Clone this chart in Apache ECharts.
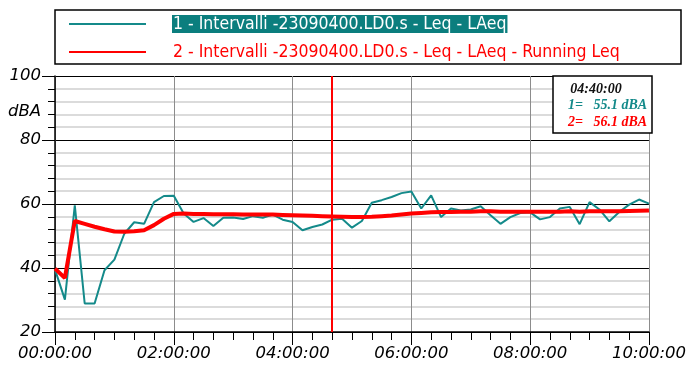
<!DOCTYPE html>
<html>
<head>
<meta charset="utf-8">
<script src="https://cdn.jsdelivr.net/npm/echarts@6/dist/echarts.min.js"></script>
<style>
html, body { margin: 0; padding: 0; background: #fff; }
#chart { width: 689px; height: 366px; }
</style>
</head>
<body>
<div id="chart"></div>
<script>
// Series names shown in the legend
const seriesNames = [
  '1 - Intervalli -23090400.LD0.s - Leq - LAeq',
  '2 - Intervalli -23090400.LD0.s - Leq - LAeq - Running Leq'
];

// 10-minute interval levels, dBA
const leq = [
  39.5, 30.1, 59.6, 28.9, 28.9, 39.3, 42.6, 50.7, 54.3, 53.8,
  60.6, 62.5, 62.6, 57.0, 54.4, 55.6, 53.1, 55.7, 55.8, 55.3,
  56.2, 55.7, 56.7, 55.1, 54.4, 51.8, 52.8, 53.6, 55.1, 55.4,
  52.6, 54.7, 60.4, 61.2, 62.2, 63.4, 63.9, 58.6, 62.7, 55.9,
  58.6, 58.0, 58.3, 59.3, 56.5, 53.8, 55.9, 57.2, 57.4, 55.2,
  55.9, 58.6, 59.1, 53.7, 60.6, 58.3, 54.6, 57.5, 59.8, 61.4,
  60.1
];

// Running Leq, dBA
const runningLeq = [
  39.8, 36.9, 54.7, 53.8, 52.9, 52.1, 51.4, 51.3, 51.5, 51.8,
  53.4, 55.4, 56.9, 57.0, 56.9, 56.9, 56.8, 56.8, 56.8, 56.7,
  56.7, 56.7, 56.7, 56.6, 56.5, 56.4, 56.3, 56.2, 56.1, 56.0,
  55.9, 55.9, 56.0, 56.2, 56.4, 56.7, 57.0, 57.2, 57.4, 57.5,
  57.5, 57.6, 57.6, 57.7, 57.7, 57.6, 57.6, 57.6, 57.6, 57.6,
  57.6, 57.6, 57.7, 57.6, 57.7, 57.7, 57.7, 57.7, 57.8, 57.9,
  58.0
];

const stepMinutes = 10;
const cursorIndex = 28;   // cursor at 04:40:00

const xTickLabels = ['00:00:00', '02:00:00', '04:00:00', '06:00:00', '08:00:00', '10:00:00'];
const yTickLabels = ['20', '40', '60', '80', '100'];

const teal = '#148a8a';
const red = '#ff0000';
const legendFontStack = '"DejaVu Sans Condensed", "Liberation Sans Narrow", "DejaVu Sans", sans-serif';
const axisFontFamily = 'DejaVu Sans';

function toPairs(arr) {
  return arr.map((v, i) => [i * stepMinutes, v]);
}

function clock(minutes) {
  const h = Math.floor(minutes / 60), m = minutes % 60;
  const p = n => String(n).padStart(2, '0');
  return p(h) + ':' + p(m) + ':00';
}

const cursorMinutes = cursorIndex * stepMinutes;
const axisFont = { fontFamily: axisFontFamily, fontStyle: 'italic', fontSize: 16.5, color: '#000' };
const boxFont = 'italic bold 14px "Liberation Serif"';

const chart = echarts.init(document.getElementById('chart'), null, { renderer: 'canvas' });

chart.setOption({
  animation: false,
  backgroundColor: '#fff',
  grid: { left: 55, right: 34, top: 76, bottom: 34 },
  legend: {
    orient: 'vertical',
    left: 68,
    top: 14,
    padding: 0,
    itemWidth: 77,
    itemHeight: 14,
    itemGap: 8,
    selectedMode: false,
    itemStyle: { opacity: 0, borderWidth: 0 },
    data: seriesNames,
    formatter: function (name) {
      return name === seriesNames[0] ? '{g|}{a|' + name + '}' : '{g|}{b|' + name + '}';
    },
    textStyle: {
      fontFamily: legendFontStack,
      fontSize: 17.5,
      lineHeight: 20,
      rich: {
        g: { width: 21, lineHeight: 20 },
        a: { color: '#fff', backgroundColor: '#0b7e7e', padding: [0, 1], fontFamily: legendFontStack, fontSize: 17.5, lineHeight: 20 },
        b: { color: red, padding: [0, 1], fontFamily: legendFontStack, fontSize: 17.5, lineHeight: 20 }
      }
    }
  },
  xAxis: {
    type: 'value',
    min: 0,
    max: 600,
    interval: 120,
    axisLine: { show: true, lineStyle: { color: '#000', width: 1.5 } },
    axisTick: { show: true, length: 13, lineStyle: { color: '#000', width: 1 } },
    minorTick: { show: true, splitNumber: 6, length: 8, lineStyle: { color: '#000', width: 1 } },
    splitLine: { show: true, lineStyle: { color: '#8c8c8c', width: 1 } },
    axisLabel: Object.assign({
      margin: 13,
      formatter: v => xTickLabels[Math.round(v / 120)] || clock(v)
    }, axisFont)
  },
  yAxis: {
    type: 'value',
    min: 20,
    max: 100,
    interval: 20,
    axisLine: { show: true, lineStyle: { color: '#000', width: 1.5 } },
    axisTick: { show: true, length: 13, lineStyle: { color: '#000', width: 1 } },
    minorTick: { show: true, splitNumber: 5, length: 7, lineStyle: { color: '#000', width: 1 } },
    splitLine: { show: true, lineStyle: { color: '#000', width: 1 } },
    minorSplitLine: { show: true, lineStyle: { color: '#cfcfcf', width: 1.5 } },
    axisLabel: Object.assign({
      margin: 14,
      formatter: v => yTickLabels[Math.round((v - 20) / 20)]
    }, axisFont)
  },
  series: [
    {
      name: seriesNames[0],
      type: 'line',
      data: toPairs(leq),
      symbol: 'none',
      color: teal,
      lineStyle: { color: teal, width: 2 },
      z: 3
    },
    {
      name: seriesNames[1],
      type: 'line',
      data: toPairs(runningLeq),
      symbol: 'none',
      color: red,
      lineStyle: { color: red, width: 4 },
      z: 4,
      markLine: {
        silent: true,
        symbol: ['none', 'none'],
        label: { show: false },
        lineStyle: { color: red, width: 2, type: 'solid' },
        data: [{ xAxis: cursorMinutes }]
      }
    }
  ],
  graphic: [
    {
      type: 'rect',
      shape: { x: 55, y: 10, width: 626, height: 54 },
      style: { fill: 'none', stroke: '#000', lineWidth: 1.5 },
      z: 10
    },
    {
      type: 'text',
      style: { text: 'dBA', x: 8, y: 112, verticalAlign: 'middle', fill: '#000',
               font: 'italic 16.5px "DejaVu Sans"' },
      z: 10
    },
    {
      type: 'group',
      z: 20,
      children: [
        {
          type: 'rect',
          shape: { x: 553, y: 76, width: 99, height: 57 },
          style: { fill: '#fff', stroke: '#000', lineWidth: 1.5 },
          z: 20
        },
        {
          type: 'text',
          style: { text: clock(cursorMinutes), x: 596, y: 89, align: 'center', verticalAlign: 'middle',
                   fill: '#111', font: 'italic bold 14px "Liberation Serif"' },
          z: 21
        },
        {
          type: 'text',
          style: { text: '1=   ' + leq[cursorIndex].toFixed(1) + ' dBA', x: 568, y: 105, verticalAlign: 'middle',
                   fill: teal, font: boxFont },
          z: 21
        },
        {
          type: 'text',
          style: { text: '2=   ' + runningLeq[cursorIndex].toFixed(1) + ' dBA', x: 568, y: 122, verticalAlign: 'middle',
                   fill: red, font: boxFont },
          z: 21
        }
      ]
    }
  ]
});
</script>
</body>
</html>
